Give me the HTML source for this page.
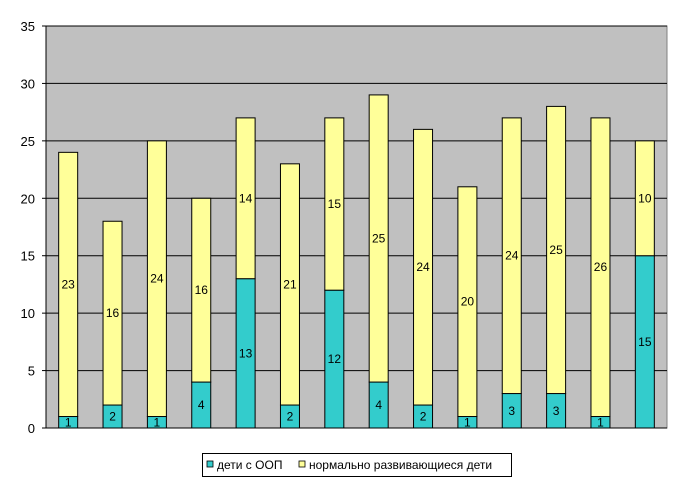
<!DOCTYPE html>
<html><head><meta charset="utf-8"><style>html,body{margin:0;padding:0;background:#fff}svg{display:block}</style></head>
<body>
<svg width="700" height="484" xmlns="http://www.w3.org/2000/svg" font-family="Liberation Sans, sans-serif">
<rect x="0" y="0" width="700" height="484" fill="#fff"/>
<rect x="46" y="26" width="621" height="402" fill="#c0c0c0" stroke="#808080" stroke-width="1"/>
<g id="grid" stroke="#000" stroke-width="1"></g>
<g id="bars"></g>
<line x1="46" y1="26" x2="46" y2="428" stroke="#000"/>
<line x1="46" y1="428" x2="667" y2="428" stroke="#000"/>
<g id="yl" font-size="13" fill="#000" text-anchor="end"></g>
<rect x="202.5" y="453.5" width="309" height="23" fill="#fff" stroke="#000"/>
<rect x="207" y="461" width="6" height="6" fill="#33cccc" stroke="#000" stroke-width="0.8"/>
<text x="217" y="469" font-size="12">дети с ООП</text>
<rect x="299" y="461" width="6" height="6" fill="#ffff99" stroke="#000" stroke-width="0.8"/>
<text x="309" y="469" font-size="12">нормально развивающиеся дети</text>
</svg>
<script>
var ns="http://www.w3.org/2000/svg";
function el(p,t,a,txt){var e=document.createElementNS(ns,t);for(var k in a)e.setAttribute(k,a[k]);if(txt!==undefined)e.textContent=txt;p.appendChild(e);return e;}
var g=document.getElementById('grid'),yl=document.getElementById('yl'),b=document.getElementById('bars');
var u=402/35;
for(var v=0;v<=35;v+=5){var y=428-v*u;if(v>0)el(g,'line',{x1:46,x2:667,y1:y,y2:y});el(g,'line',{x1:42,x2:46,y1:y,y2:y});el(yl,'text',{x:35,y:y+5},v);}
var a=[1,2,1,4,13,2,12,4,2,1,3,3,1,15],n=[23,16,24,16,14,21,15,25,24,20,24,25,26,10];
for(var i=0;i<14;i++){var cx=46+621/14*(i+0.5),x=cx-9.5,w=19;
var y0=428,y1=428-a[i]*u,y2=y1-n[i]*u;
el(b,'rect',{x:x,y:y1,width:w,height:y0-y1,fill:'#33cccc',stroke:'#000','stroke-width':1});
el(b,'rect',{x:x,y:y2,width:w,height:y1-y2,fill:'#ffff99',stroke:'#000','stroke-width':1});
el(b,'text',{x:cx,y:(y0+y1)/2+4,'text-anchor':'middle','font-size':12},a[i]);
el(b,'text',{x:cx,y:(y1+y2)/2+4,'text-anchor':'middle','font-size':12},n[i]);}
</script>
</body></html>
